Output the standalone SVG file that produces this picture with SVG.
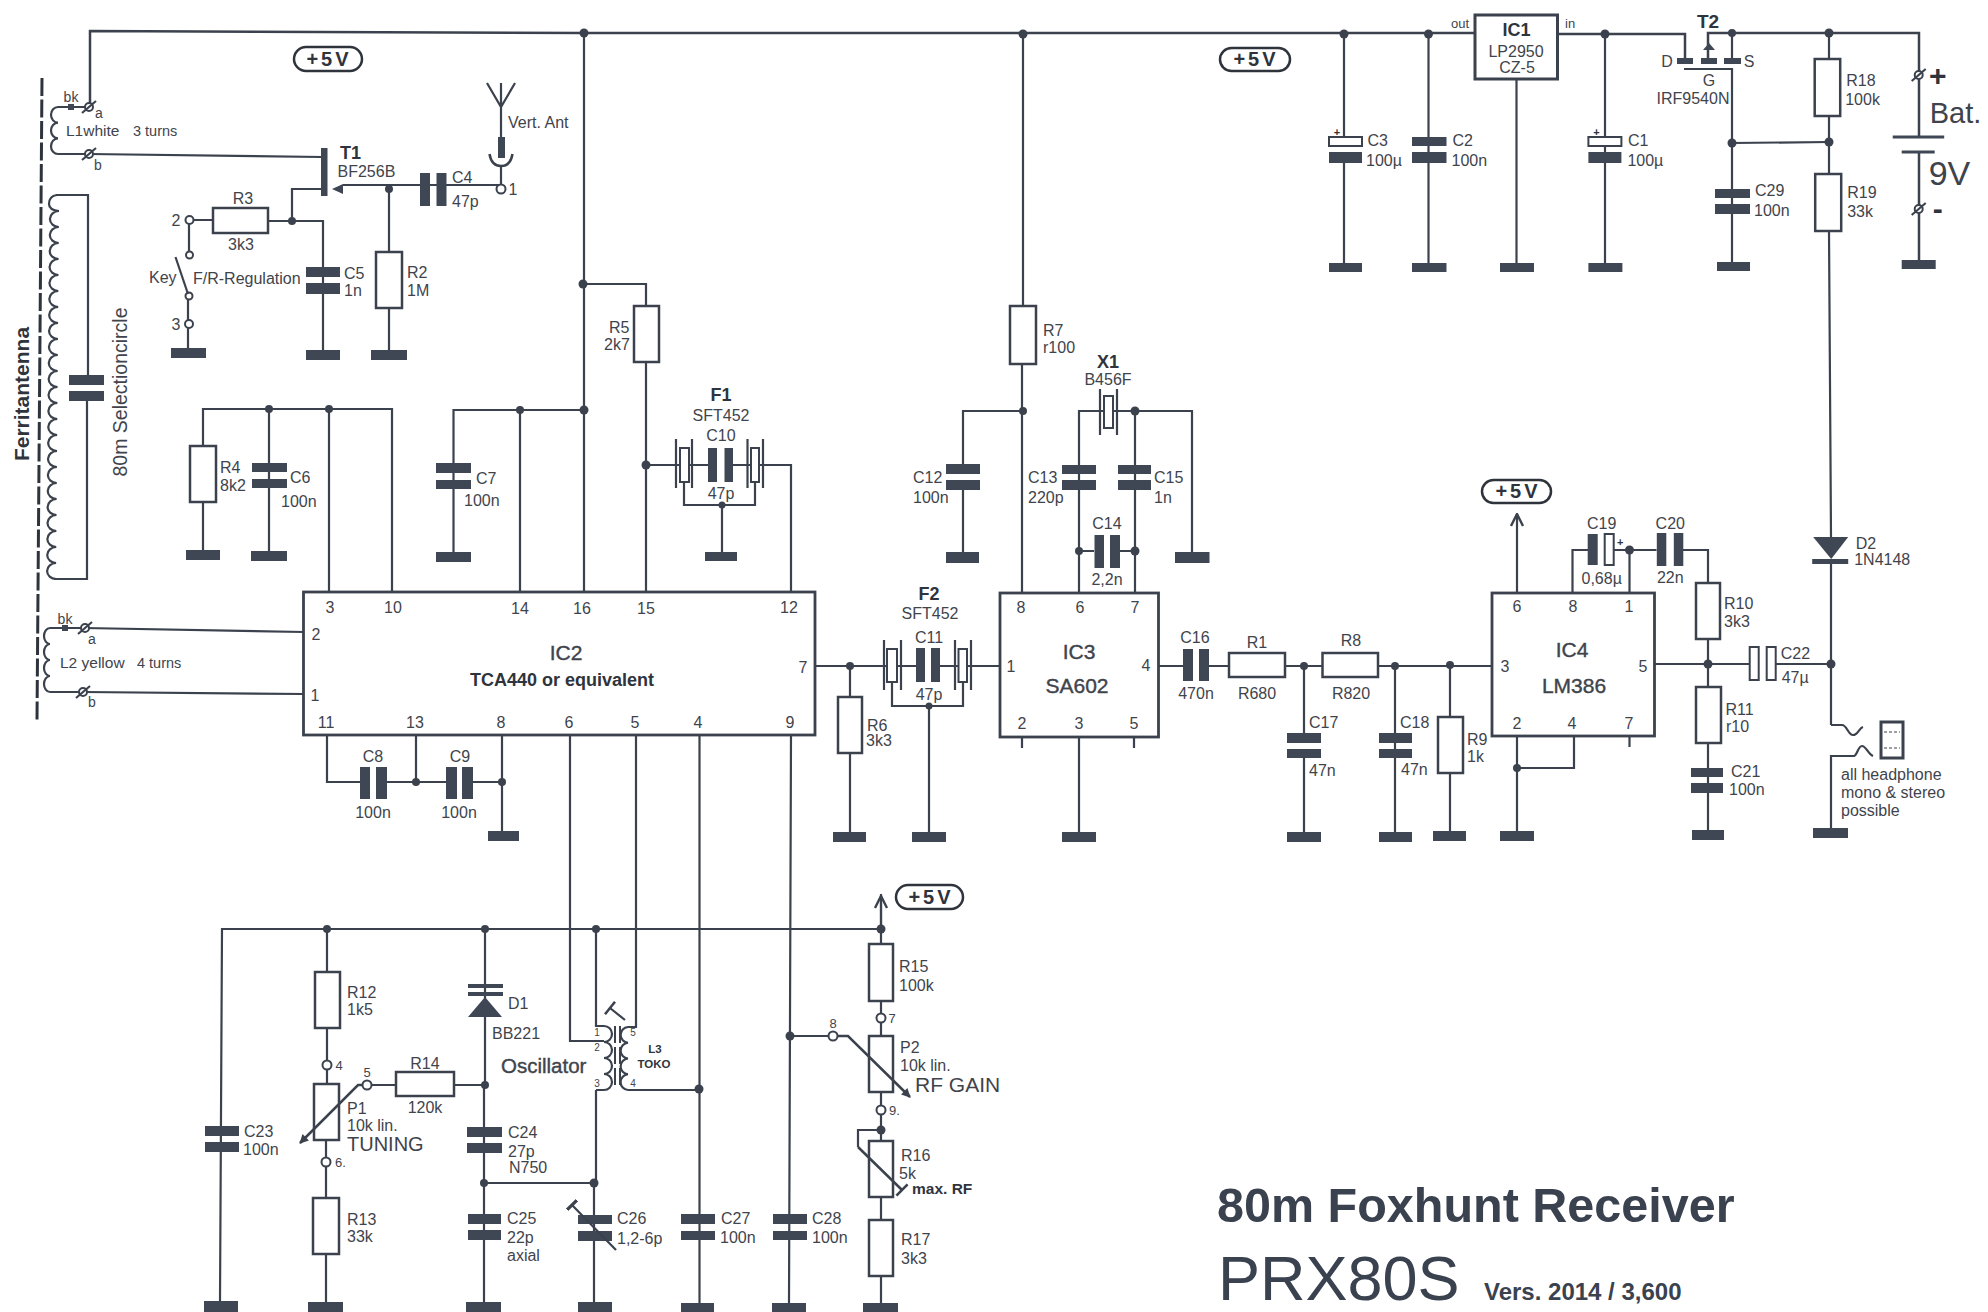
<svg xmlns="http://www.w3.org/2000/svg" width="1988" height="1312" viewBox="0 0 1988 1312">
<style>
text{font-family:"Liberation Sans",Arial,sans-serif;font-size:16px;fill:#3f444c;dominant-baseline:central}
.c{text-anchor:middle}
.b{font-weight:bold;fill:#2f343c}
.h{font-size:18px}
.m{font-size:21px;stroke:#3f444c;stroke-width:.4px}
.s{font-size:10px}
.w{fill:none;stroke:#3b424d;stroke-width:2.2;stroke-linejoin:miter}
.l{fill:none;stroke:#3b424d;stroke-width:2.5}
.p{fill:#3f4754}
.r{fill:#fff;stroke:#3b424d;stroke-width:2.5}
.ic{fill:#fff;stroke:#3b424d;stroke-width:2.8}
.j{fill:#3b424d}
.o{fill:#fff;stroke:#3b424d;stroke-width:2}
.pill{fill:#fff;stroke:#2f343c;stroke-width:2.5}
.v{font-size:20px;font-weight:bold;letter-spacing:3px;fill:#2f343c;text-anchor:middle}
.title{dominant-baseline:auto;fill:#3a4250}
</style>
<defs>
<marker id="tip" viewBox="0 0 10 10" refX="9" refY="5" markerWidth="11" markerHeight="9" markerUnits="userSpaceOnUse" orient="auto"><path d="M0 0L10 5L0 10Z" fill="#3b424d"/></marker>
<marker id="open" viewBox="0 0 10 10" refX="9" refY="5" markerWidth="15" markerHeight="15" markerUnits="userSpaceOnUse" orient="auto"><path d="M1 1L9 5L1 9" fill="none" stroke="#3b424d" stroke-width="1.6"/></marker>
<marker id="tee" viewBox="0 0 10 10" refX="5" refY="5" markerWidth="16" markerHeight="16" markerUnits="userSpaceOnUse" orient="auto"><path d="M5 0V10" fill="none" stroke="#3b424d" stroke-width="1.6"/></marker>
<marker id="teeThick" viewBox="0 0 10 10" refX="5" refY="5" markerWidth="14" markerHeight="14" markerUnits="userSpaceOnUse" orient="auto"><path d="M5 0V10" fill="none" stroke="#3b424d" stroke-width="2.4"/></marker>
</defs>

<g id="connectors">
<!-- +5V supply rail -->
<path class="l" d="M90 107V31L584 33H1476"/>
<path class="w" d="M584 33V592M583 284H646V306M646 362V592"/>
<path class="w" d="M1023 34V306M1022 364V593"/>
<path class="w" d="M1344 34V137M1344 163V263M1428.5 34V263M1516.5 79V263"/>
<path class="l" d="M1558 34H1685V58M1708 58V33H1919V137M1919 152V260"/>
<path class="w" d="M1605 34V263"/>
<path class="w" d="M1684 69H1732V263M1732 143L1829 142M1732 33V58"/>
<path class="w" d="M1829 33V59M1829 116V174M1829 231L1831 537M1831 559V725"/>
<!-- L1 / T1 -->
<path class="w" d="M89 154L322 157"/>
<path class="w" d="M322 189H292V221M501 185H343M189 220H213M268 221H323V350M292 221H268"/>
<path class="w" d="M389 189V252M389 308V350"/>
<path class="w" d="M189 220V255M188 293V348"/>
<path class="w" d="M501 184V166"/>
<!-- ferrite selection circuit -->
<path class="w" d="M56 195H88V375M87 401V579H54"/>
<!-- R4 C6 C7 -->
<path class="w" d="M203 446V409H392V592M329 409V592M203 502V550M269 409V551"/>
<path class="w" d="M453.5 552V410H584M520 410V592"/>
<!-- F1 -->
<path class="w" d="M646 465H680M689 465H708M733 465H751M759 465H791V592M684 482V505H755V482M722 505V552"/>
<!-- L2 -->
<path class="w" d="M84 628L304 632M84 692L304 694"/>
<!-- C8 C9 -->
<path class="w" d="M327 735V782H360M387 782H446M416 735V782M473 782H502M502 735V831"/>
<!-- IC2 bottom pins -->
<path class="w" d="M570 735V1041H604M636 735V1027H628M699.5 735V1303M791 735L789 1303M790 1036H833"/>
<!-- IC2 - F2 - IC3 -->
<path class="w" d="M815 666H887M897 666H916M940 666H958M967 666H1000M850 666V697M850 753V832M892 682V706H963V682M929 706V832"/>
<!-- IC3 top -->
<path class="w" d="M963 464V411H1023M963 490V552M1079 593V411H1104M1113 411H1192V552M1135 411V593"/>
<path class="w" d="M1079 551H1094M1120 551H1135"/>
<path class="w" d="M1079 737V832M1022 737V748M1134 737V748"/>
<!-- audio chain -->
<path class="w" d="M1158 666H1183M1209 666H1229M1285 666H1322M1378 666H1492.5M1304 666V733M1304 758V832M1395 666V832M1450 665V717M1450 773V831"/>
<!-- IC4 -->
<path class="w" d="M1517 593V514" marker-end="url(#open)"/>
<path class="w" d="M1572.5 593V550H1588M1614 550H1656.5M1629.5 550V593M1683 550H1708V583M1708 639V687M1708 743V830M1654.5 664H1750M1776 664H1831M1517 736V831M1517 768H1574V736M1629.5 736V747"/>
<!-- headphone -->
<path class="w" d="M1831 725H1842C1847 725 1848 735 1853 735S1859 728 1863 727M1831 828V756H1854C1857 756 1858 746 1862 746S1868 754 1873 756"/>
<!-- lower rail -->
<path class="w" d="M220 1301L222 929H881M327 929V972M327 1028V1060M327 1070V1084M326 1140V1157M326 1167V1198M326 1254V1302"/>
<path class="w" d="M485 929V1085M484 1085V1302M372 1085H396M454 1085H485M484 1183H594"/>
<path class="w" d="M596 929V1026H604M596 1090H604M596 1090V1183M594 1183V1303M628 1090H699"/>
<path class="w" d="M881 929V894M881 944V929M881 1001V1013M881 1023V1036M881 1092V1105M881 1115V1141M881 1197V1220M881 1276V1303"/>
<path class="w" d="M881 929V896" marker-end="url(#open)"/>
<path class="w" d="M881 1130H858V1147"/>
<!-- junctions -->
<g class="j">
<circle cx="584" cy="33" r="4.5"/><circle cx="1023" cy="34" r="4.5"/><circle cx="1344" cy="34" r="4.5"/><circle cx="1428.5" cy="34" r="4.5"/><circle cx="1605" cy="34" r="4.5"/><circle cx="1732" cy="33" r="4"/><circle cx="1829" cy="33" r="4.5"/><circle cx="1732" cy="143" r="4.5"/><circle cx="1829" cy="142" r="4.5"/>
<circle cx="583" cy="284" r="4.5"/><circle cx="584" cy="410" r="4.5"/><circle cx="520" cy="410" r="4"/><circle cx="269" cy="409" r="4"/><circle cx="329" cy="409" r="4"/><circle cx="646" cy="465" r="4.5"/><circle cx="722" cy="505" r="3.5"/>
<circle cx="389" cy="189" r="4"/><circle cx="292" cy="221" r="4"/>
<circle cx="416" cy="782" r="4"/><circle cx="502" cy="782" r="4"/>
<circle cx="850" cy="666" r="4"/><circle cx="929" cy="706" r="3.5"/><circle cx="1023" cy="411" r="4"/><circle cx="1135" cy="411" r="4.5"/><circle cx="1079" cy="551" r="4"/><circle cx="1135" cy="551" r="4.5"/>
<circle cx="1304" cy="666" r="4"/><circle cx="1395" cy="666" r="4"/><circle cx="1450" cy="665" r="4"/><circle cx="1629.5" cy="550" r="4.5"/><circle cx="1708" cy="664" r="4.5"/><circle cx="1831" cy="664" r="4.5"/><circle cx="1517" cy="768" r="4"/>
<circle cx="327" cy="929" r="4"/><circle cx="485" cy="929" r="4"/><circle cx="596" cy="929" r="4"/><circle cx="881" cy="929" r="4.5"/><circle cx="485" cy="1085" r="4"/><circle cx="484" cy="1183" r="4"/><circle cx="594" cy="1183" r="4.5"/><circle cx="699" cy="1089" r="4.5"/><circle cx="790" cy="1036" r="4.5"/><circle cx="881" cy="1130" r="4.5"/>
</g>
</g>

<g id="ferrite">
<path d="M42 78L37 720" fill="none" stroke="#2f343c" stroke-width="3" stroke-dasharray="18 3.5"/>
<text class="b" transform="translate(21 394) rotate(-90)" text-anchor="middle" style="font-size:21px">Ferritantenna</text>
<path class="w" d="M57 195Q49 196 49 204Q49 210 59 211a9 8 0 0 0 -.13 16a9 8 0 0 0 -.13 16a9 8 0 0 0 -.13 16a9 8 0 0 0 -.13 16a9 8 0 0 0 -.13 16a9 8 0 0 0 -.13 16a9 8 0 0 0 -.13 16a9 8 0 0 0 -.13 16a9 8 0 0 0 -.13 16a9 8 0 0 0 -.13 16a9 8 0 0 0 -.13 16a9 8 0 0 0 -.13 16a9 8 0 0 0 -.13 16a9 8 0 0 0 -.13 16a9 8 0 0 0 -.13 16a9 8 0 0 0 -.13 16a9 8 0 0 0 -.13 16a9 8 0 0 0 -.13 16a9 8 0 0 0 -.13 16a9 8 0 0 0 -.13 16a9 8 0 0 0 -.13 16a9 8 0 0 0 -.13 16a9 8 0 0 0 -.13 16"/>
<rect class="p" x="69" y="375" width="35" height="10"/><rect class="p" x="69" y="391" width="35" height="10"/>
<text transform="translate(120 392) rotate(-90)" text-anchor="middle" style="font-size:19.5px">80m Selectioncircle</text>
</g>

<g id="L1">
<path class="w" d="M89 107H58a7 7.83 0 0 0 0 15.67a7 7.83 0 0 0 0 15.67a7 7.83 0 0 0 0 15.67H89"/>
<rect class="p" x="68" y="104" width="6" height="6"/>
<circle class="o" cx="89" cy="107" r="4"/><path class="w" d="M82 113L96 101"/>
<circle class="o" cx="89" cy="154" r="4"/><path class="w" d="M82 160L96 148"/>
<text class="c" x="71" y="97" style="font-size:14px">bk</text><text class="c" x="99" y="113" style="font-size:14px">a</text><text class="c" x="98" y="165" style="font-size:14px">b</text>
<text x="66" y="130" style="font-size:15.5px">L1white</text><text x="133" y="131" style="font-size:14.5px">3 turns</text>
</g>
<g id="L2">
<path class="w" d="M84 628H50a6 8 0 0 0 0 16a6 8 0 0 0 0 16a6 8 0 0 0 0 16a6 8 0 0 0 0 16H84"/>
<rect class="p" x="62" y="625" width="6" height="6"/>
<circle class="o" cx="85" cy="628" r="4"/><path class="w" d="M78 634L92 622"/>
<circle class="o" cx="83" cy="692" r="4"/><path class="w" d="M76 698L90 686"/>
<text class="c" x="65" y="619" style="font-size:14px">bk</text><text class="c" x="92" y="639" style="font-size:14px">a</text><text class="c" x="92" y="702" style="font-size:14px">b</text>
<text x="60" y="662" style="font-size:15.5px">L2 yellow</text><text x="137" y="663" style="font-size:14.5px">4 turns</text>
</g>

<g id="pill-a"><rect class="pill" x="294" y="47" width="68" height="24" rx="12"/><text class="v" x="329" y="59">+5V</text></g>
<g id="pill-b"><rect class="pill" x="1220" y="48" width="70" height="23" rx="11.5"/><text class="v" x="1256" y="59">+5V</text></g>
<g id="pill-c"><rect class="pill" x="1482" y="480" width="69" height="23" rx="11.5"/><text class="v" x="1518" y="491">+5V</text></g>
<g id="pill-d"><rect class="pill" x="896" y="885" width="67" height="24" rx="12"/><text class="v" x="931" y="897">+5V</text></g>

<g id="T1">
<rect class="p" x="321" y="148" width="6.5" height="48"/>
<path class="p" d="M332 189L343 184V194Z"/>
<text class="b h" x="340" y="153">T1</text><text x="337.5" y="171">BF256B</text>
</g>
<g id="antenna">
<path class="w" d="M487 83L501 107L515 83M501 83V137"/>
<rect class="p" x="498" y="137" width="7" height="21"/>
<path class="l" d="M489.5 154C491 163 496 166 501 166S511 163 512.5 154"/>
<circle class="o" cx="501" cy="189" r="4.5"/>
<text x="508" y="122">Vert. Ant</text><text class="c" x="513" y="189">1</text>
</g>
<g id="C4"><rect class="p" x="420" y="173" width="10" height="33"/><rect class="p" x="436.5" y="173" width="10" height="33"/><text x="452" y="177">C4</text><text x="452" y="201">47p</text></g>
<g id="R3"><rect class="r" x="213" y="208" width="55" height="25"/><text class="c" x="243" y="198">R3</text><text class="c" x="241" y="244">3k3</text></g>
<g id="R2"><rect class="r" x="376" y="252" width="26" height="56"/><text x="407" y="272">R2</text><text x="407" y="290">1M</text><rect class="p" x="371" y="350" width="36" height="10"/></g>
<g id="C5"><rect class="p" x="306" y="267" width="34" height="10"/><rect class="p" x="306" y="283" width="34" height="11"/><text x="344" y="273">C5</text><text x="344" y="290">1n</text><rect class="p" x="306" y="350" width="34" height="10"/></g>
<g id="key">
<circle class="o" cx="189.5" cy="220" r="4"/><circle class="o" cx="189.5" cy="255" r="3.5"/><circle class="o" cx="189" cy="296" r="3.5"/><circle class="o" cx="189" cy="324" r="4"/>
<path class="w" d="M175.5 257L188 294"/>
<text class="c" x="176" y="220">2</text><text class="c" x="176" y="324">3</text>
<text x="149" y="277">Key</text><text x="193" y="278">F/R-Regulation</text>
<rect class="p" x="171" y="348" width="35" height="10"/>
</g>
<g id="R5"><rect class="r" x="634" y="306" width="25" height="56"/><text x="609" y="327">R5</text><text x="604" y="344">2k7</text></g>
<g id="R4"><rect class="r" x="190" y="446" width="26" height="56"/><text x="220" y="467">R4</text><text x="220" y="485">8k2</text><rect class="p" x="186" y="550" width="34" height="10"/></g>
<g id="C6"><rect class="p" x="252" y="463" width="35" height="9"/><rect class="p" x="252" y="479" width="35" height="9"/><text x="290" y="477">C6</text><text x="281" y="501">100n</text><rect class="p" x="251" y="551" width="36" height="10"/></g>
<g id="C7"><rect class="p" x="436" y="463" width="35" height="10"/><rect class="p" x="436" y="480" width="35" height="9"/><text x="476" y="478">C7</text><text x="464" y="500">100n</text><rect class="p" x="436" y="552" width="35" height="10"/></g>
<g id="F1">
<path class="w" d="M676 439V488M692 439V488M747.5 439V488M763 439V488"/>
<rect class="r" style="stroke-width:2" x="680" y="448" width="9" height="34"/><rect class="r" style="stroke-width:2" x="751" y="448" width="8" height="34"/>
<rect class="p" x="708" y="448" width="9" height="34"/><rect class="p" x="724.5" y="448" width="8.5" height="34"/>
<rect class="p" x="705" y="552" width="32" height="9"/>
<text class="b h c" x="721" y="395">F1</text><text class="c" x="721" y="415">SFT452</text><text class="c" x="721" y="435">C10</text><text class="c" x="721" y="493">47p</text>
</g>
<g id="IC2">
<rect class="ic" x="303.5" y="592" width="511.5" height="143"/>
<text class="c m" x="566" y="652">IC2</text><text class="c b" x="562" y="680" style="font-size:18px">TCA440 or equivalent</text>
<text class="c" x="330" y="607">3</text><text class="c" x="393" y="607">10</text><text class="c" x="520" y="608">14</text><text class="c" x="582" y="608">16</text><text class="c" x="646" y="608">15</text><text class="c" x="789" y="607">12</text>
<text class="c" x="316" y="634">2</text><text class="c" x="315" y="695">1</text><text class="c" x="803" y="667">7</text>
<text class="c" x="326" y="722">11</text><text class="c" x="415" y="722">13</text><text class="c" x="501" y="722">8</text><text class="c" x="569" y="722">6</text><text class="c" x="635" y="722">5</text><text class="c" x="698" y="722">4</text><text class="c" x="790" y="722">9</text>
</g>
<g id="C8"><rect class="p" x="360" y="767" width="10" height="32"/><rect class="p" x="376" y="767" width="11" height="32"/><text class="c" x="373" y="756">C8</text><text class="c" x="373" y="812">100n</text></g>
<g id="C9"><rect class="p" x="446" y="767" width="11" height="32"/><rect class="p" x="462" y="767" width="11" height="32"/><text class="c" x="460" y="756">C9</text><text class="c" x="459" y="812">100n</text><rect class="p" x="488" y="831" width="31" height="10"/></g>
<g id="R6"><rect class="r" x="838" y="697" width="24" height="56"/><text x="867" y="725">R6</text><text x="866" y="740">3k3</text><rect class="p" x="833" y="832" width="33" height="10"/></g>
<g id="F2">
<path class="w" d="M884 640V690M901 640V690M955 640V690M971 640V690"/>
<rect class="r" style="stroke-width:2" x="887" y="649" width="10" height="33"/><rect class="r" style="stroke-width:2" x="958.5" y="649" width="8.5" height="33"/>
<rect class="p" x="916" y="648" width="9" height="34"/><rect class="p" x="931" y="648" width="9" height="34"/>
<rect class="p" x="912" y="832" width="34" height="10"/>
<text class="b h c" x="929" y="594">F2</text><text class="c" x="930" y="613">SFT452</text><text class="c" x="929" y="637">C11</text><text class="c" x="929" y="694">47p</text>
</g>
<g id="R7"><rect class="r" x="1010" y="306" width="26" height="58"/><text x="1043" y="330">R7</text><text x="1043" y="347">r100</text></g>
<g id="C12"><rect class="p" x="946" y="464" width="34" height="10"/><rect class="p" x="946" y="480" width="34" height="10"/><text x="913" y="477">C12</text><text x="913" y="497">100n</text><rect class="p" x="946" y="552" width="33" height="11"/></g>
<g id="X1">
<path class="w" d="M1100 389V435M1117 389V435"/><rect class="r" style="stroke-width:2" x="1104" y="396" width="9" height="32"/>
<text class="b h c" x="1108" y="362">X1</text><text class="c" x="1108" y="379">B456F</text>
<rect class="p" x="1175" y="552" width="34.5" height="11"/>
</g>
<g id="C13"><rect class="p" x="1062" y="465" width="34" height="9"/><rect class="p" x="1062" y="480" width="34" height="10"/><text x="1028" y="477">C13</text><text x="1028" y="497">220p</text></g>
<g id="C15"><rect class="p" x="1118" y="465" width="33" height="9"/><rect class="p" x="1118" y="480" width="33" height="10"/><text x="1154" y="477">C15</text><text x="1154" y="497">1n</text></g>
<g id="C14"><rect class="p" x="1094.5" y="535" width="9.5" height="33"/><rect class="p" x="1110" y="535" width="10" height="33"/><text class="c" x="1107" y="523">C14</text><text class="c" x="1107" y="579">2,2n</text></g>
<g id="IC3">
<rect class="ic" x="1000" y="593" width="158.5" height="144"/>
<text class="c m" x="1079" y="651">IC3</text><text class="c m" x="1077" y="685">SA602</text>
<text class="c" x="1021" y="607">8</text><text class="c" x="1080" y="607">6</text><text class="c" x="1135" y="607">7</text><text class="c" x="1011" y="666">1</text><text class="c" x="1146" y="665">4</text><text class="c" x="1022" y="723">2</text><text class="c" x="1079" y="723">3</text><text class="c" x="1134" y="723">5</text>
<rect class="p" x="1062" y="832" width="34" height="10"/>
</g>
<g id="C16"><rect class="p" x="1183" y="649" width="10" height="32"/><rect class="p" x="1199" y="649" width="10" height="32"/><text class="c" x="1195" y="637">C16</text><text class="c" x="1196" y="693">470n</text></g>
<g id="R1"><rect class="r" x="1229" y="653" width="56" height="24"/><text class="c" x="1257" y="642">R1</text><text class="c" x="1257" y="693">R680</text></g>
<g id="R8"><rect class="r" x="1322.5" y="653" width="55.5" height="24"/><text class="c" x="1351" y="640">R8</text><text class="c" x="1351" y="693">R820</text></g>
<g id="C17"><rect class="p" x="1287" y="733" width="34" height="10"/><rect class="p" x="1287" y="749" width="34" height="9"/><text x="1309" y="722">C17</text><text x="1309" y="770">47n</text><rect class="p" x="1287" y="832" width="34" height="10"/></g>
<g id="C18"><rect class="p" x="1379" y="733" width="33" height="10"/><rect class="p" x="1379" y="749" width="33" height="9"/><text x="1400" y="722">C18</text><text x="1401" y="769">47n</text><rect class="p" x="1379" y="832" width="33" height="10"/></g>
<g id="R9"><rect class="r" x="1438" y="717" width="25" height="56"/><text x="1467" y="739">R9</text><text x="1467" y="756">1k</text><rect class="p" x="1433" y="831" width="33" height="10"/></g>
<g id="IC4" transform="translate(-1 0)">
<rect class="ic" x="1493" y="593" width="162.5" height="143"/>
<text class="c m" x="1573" y="649">IC4</text><text class="c m" x="1575" y="685">LM386</text>
<text class="c" x="1518" y="606">6</text><text class="c" x="1574" y="606">8</text><text class="c" x="1630" y="606">1</text><text class="c" x="1506" y="666">3</text><text class="c" x="1644" y="666">5</text><text class="c" x="1518" y="723">2</text><text class="c" x="1573" y="723">4</text><text class="c" x="1630" y="723">7</text>
<rect class="p" x="1501" y="831" width="34" height="10"/>
</g>
<g id="C19" transform="translate(-1.3 0)"><rect class="p" x="1589" y="534" width="10" height="31"/><rect class="r" style="stroke-width:2" x="1606" y="534" width="9" height="31"/><text class="c b" x="1621.5" y="542" style="font-size:11px">+</text><text class="c" x="1603" y="523">C19</text><text class="c" x="1603" y="578">0,68µ</text></g>
<g id="C20" transform="translate(-1.7 0)"><rect class="p" x="1658.5" y="533" width="9.5" height="33"/><rect class="p" x="1675.5" y="533" width="9.5" height="33"/><text class="c" x="1672" y="523">C20</text><text class="c" x="1672" y="577">22n</text></g>
<g id="R10" transform="translate(-2 0)"><rect class="r" x="1698" y="583" width="24" height="56"/><text x="1726" y="603">R10</text><text x="1726" y="621">3k3</text></g>
<g id="R11" transform="translate(-2 0)"><rect class="r" x="1698" y="687" width="25" height="56"/><text x="1727.5" y="709">R11</text><text x="1728" y="726">r10</text></g>
<g id="C21" transform="translate(-2 0)"><rect class="p" x="1693" y="768" width="32" height="9"/><rect class="p" x="1693" y="783" width="32" height="10"/><text x="1733" y="771">C21</text><text x="1731" y="789">100n</text><rect class="p" x="1694" y="830" width="32" height="10"/></g>
<g id="C22" transform="translate(-2.3 0)"><rect class="r" style="stroke-width:2" x="1752" y="647" width="9" height="33"/><rect class="r" style="stroke-width:2" x="1769" y="647" width="9" height="33"/><text x="1783" y="653">C22</text><text x="1784" y="677">47µ</text></g>
<g id="D2" transform="translate(-2.8 0)"><path class="p" d="M1816 537H1851L1834 559Z"/><rect class="p" x="1815" y="559" width="36" height="5"/><text x="1858.5" y="543">D2</text><text x="1857" y="559">1N4148</text></g>
<g id="headphone" transform="translate(-3 0)">
<rect x="1884" y="722" width="22" height="36" fill="#fff" stroke="#3b424d" stroke-width="3"/>
<path d="M1887 732H1903M1887 748H1903" fill="none" stroke="#3b424d" stroke-width="1.2" stroke-dasharray="3 2"/>
<text x="1844" y="774">all headphone</text><text x="1844" y="792">mono &amp; stereo</text><text x="1844" y="810">possible</text>
<rect class="p" x="1816" y="828" width="35" height="10"/>
</g>

<g id="C3"><rect class="r" style="stroke-width:2" x="1329" y="137" width="33" height="9"/><rect class="p" x="1329" y="152" width="33" height="11"/><text class="c b" x="1337" y="132" style="font-size:11px">+</text><text x="1367.5" y="140">C3</text><text x="1366" y="160">100µ</text><rect class="p" x="1329" y="263" width="33" height="9"/></g>
<g id="C2" transform="translate(-.5 0)"><rect class="p" x="1412.5" y="137" width="34.5" height="9"/><rect class="p" x="1412.5" y="152" width="34.5" height="11"/><text x="1453" y="140">C2</text><text x="1452" y="160">100n</text><rect class="p" x="1412.5" y="263" width="34.5" height="9"/></g>
<g id="IC1" transform="translate(-1 0)">
<rect class="ic" style="stroke-width:3" x="1476" y="15" width="82.5" height="64"/>
<text class="c b h" x="1517.5" y="30">IC1</text><text class="c" x="1517" y="51">LP2950</text><text class="c" x="1518" y="67">CZ-5</text>
<text x="1470" y="23" text-anchor="end" style="font-size:13px">out</text><text x="1566" y="23" style="font-size:13px">in</text>
<rect class="p" x="1501" y="263" width="34" height="9"/>
</g>
<g id="C1" transform="translate(-1.6 0)"><rect class="r" style="stroke-width:2" x="1590" y="137" width="33" height="9"/><rect class="p" x="1590" y="152" width="33" height="11"/><text class="c b" x="1598" y="132" style="font-size:11px">+</text><text x="1629.5" y="140">C1</text><text x="1629" y="160">100µ</text><rect class="p" x="1590" y="263" width="34" height="9"/></g>
<g id="T2">
<rect class="p" x="1677" y="58" width="16" height="6"/><rect class="p" x="1701" y="58" width="16" height="6"/><rect class="p" x="1724" y="58" width="17" height="6"/>
<path class="p" d="M1709 43L1715 50H1703Z"/>
<text class="b c" x="1708" y="21" style="font-size:19px">T2</text><text class="c" x="1667" y="61">D</text><text class="c" x="1749" y="61">S</text><text class="c" x="1709" y="80">G</text><text class="c" x="1693" y="98">IRF9540N</text>
</g>
<g id="C29" transform="translate(-3 0)"><rect class="p" x="1718" y="189" width="35" height="9"/><rect class="p" x="1718" y="204" width="35" height="10"/><text x="1758" y="190">C29</text><text x="1757" y="210">100n</text><rect class="p" x="1720" y="262" width="33" height="9"/></g>
<g id="R18" transform="translate(-2.8 0)"><rect class="r" x="1817.5" y="59" width="25.5" height="57"/><text x="1849" y="80">R18</text><text x="1848" y="99">100k</text></g>
<g id="R19" transform="translate(-2.8 0)"><rect class="r" x="1818" y="174" width="26" height="57"/><text x="1850" y="192">R19</text><text x="1850" y="211">33k</text></g>
<g id="battery" transform="translate(-3.3 0)">
<rect class="p" x="1896" y="135.5" width="51.5" height="3"/><rect class="p" x="1905" y="150.5" width="33" height="3"/>
<circle class="o" cx="1922" cy="75" r="4"/><path class="w" d="M1915 81L1929 69"/>
<circle class="o" cx="1922" cy="209" r="4"/><path class="w" d="M1915 215L1929 203"/>
<text class="c b" x="1941" y="75" style="font-size:30px">+</text><text class="c b" x="1941" y="208" style="font-size:30px">-</text>
<text x="1933" y="113" style="font-size:29px">Bat.</text><text x="1932" y="173" style="font-size:34px">9V</text>
<rect class="p" x="1905" y="260" width="34" height="9"/>
</g>

<g id="C23"><rect class="p" x="205" y="1126" width="34" height="10"/><rect class="p" x="205" y="1142" width="34" height="10"/><text x="244" y="1131">C23</text><text x="243" y="1149">100n</text><rect class="p" x="204" y="1301" width="34" height="11"/></g>
<g id="R12"><rect class="r" x="315" y="972" width="25" height="56"/><text x="347" y="992">R12</text><text x="347" y="1009">1k5</text></g>
<g id="P1">
<circle class="o" cx="327" cy="1065" r="4.5"/><text class="c" x="339" y="1065" style="font-size:13px">4</text>
<rect class="r" x="314" y="1084" width="25" height="56"/>
<path class="l" d="M367 1085H358L300 1143" marker-end="url(#tip)"/>
<circle class="o" cx="367" cy="1085" r="4.5"/><text class="c" x="367" y="1072" style="font-size:13px">5</text>
<circle class="o" cx="326" cy="1162" r="4.5"/><text x="335" y="1162" style="font-size:13px">6.</text>
<text x="347" y="1108">P1</text><text x="347" y="1125">10k lin.</text><text x="347" y="1144" style="font-size:20px">TUNING</text>
</g>
<g id="R13"><rect class="r" x="313" y="1198" width="26" height="56"/><text x="347" y="1219">R13</text><text x="347" y="1236">33k</text><rect class="p" x="308" y="1302" width="35" height="10"/></g>
<g id="D1"><rect class="p" x="468" y="984" width="35" height="4"/><rect class="p" x="468" y="992" width="35" height="4"/><path class="p" d="M485 997L502 1017H468Z"/><text x="508" y="1003">D1</text><text x="492" y="1033">BB221</text></g>
<g id="R14"><rect class="r" x="396" y="1072" width="58" height="24"/><text class="c" x="425" y="1063">R14</text><text class="c" x="425" y="1107">120k</text></g>
<g id="C24"><rect class="p" x="467" y="1127" width="35" height="10"/><rect class="p" x="467" y="1143" width="35" height="10"/><text x="508" y="1132">C24</text><text x="508" y="1151">27p</text><text x="509" y="1167">N750</text></g>
<g id="C25"><rect class="p" x="468" y="1214" width="33" height="10"/><rect class="p" x="468" y="1230" width="33" height="10"/><text x="507" y="1218">C25</text><text x="507" y="1237">22p</text><text x="507" y="1255">axial</text><rect class="p" x="466" y="1302" width="35" height="10"/></g>
<g id="C26"><rect class="p" x="578" y="1215" width="34" height="9"/><rect class="p" x="578" y="1231" width="34" height="10"/>
<path class="w" d="M572 1205L616 1250" marker-start="url(#teeThick)"/>
<text x="617" y="1218">C26</text><text x="617" y="1238">1,2-6p</text><rect class="p" x="578" y="1302" width="34" height="10"/></g>
<g id="L3">
<path class="w" d="M604 1026a8 8 0 0 1 0 16a8 8 0 0 1 0 16a8 8 0 0 1 0 16a8 8 0 0 1 0 16"/>
<path class="w" d="M636 1027H628a8 7.9 0 0 0 0 15.75a8 7.9 0 0 0 0 15.75a8 7.9 0 0 0 0 15.75a8 7.9 0 0 0 0 15.75"/>
<path d="M615 1026V1087M620 1026V1087" fill="none" stroke="#3b424d" stroke-width="2" stroke-dasharray="17 4"/>
<path class="w" d="M610 1008L625 1020" marker-start="url(#tee)"/>
<text class="c s" x="597" y="1032">1</text><text class="c s" x="597" y="1047">2</text><text class="c s" x="597" y="1083">3</text><text class="c s" x="633" y="1032">5</text><text class="c s" x="633" y="1083">4</text>
<text class="c b" x="655" y="1049" style="font-size:11.5px">L3</text><text class="c b" x="654" y="1064" style="font-size:11.5px">TOKO</text>
<text x="501" y="1065" style="font-size:20.5px;stroke:#3f444c;stroke-width:.4px">Oscillator</text>
</g>
<g id="C27"><rect class="p" x="681" y="1214" width="34" height="10"/><rect class="p" x="681" y="1231" width="34" height="9"/><text x="721" y="1218">C27</text><text x="720" y="1237">100n</text><rect class="p" x="681" y="1303" width="33" height="9"/></g>
<g id="C28"><rect class="p" x="773" y="1214" width="34" height="10"/><rect class="p" x="773" y="1231" width="34" height="9"/><text x="812" y="1218">C28</text><text x="812" y="1237">100n</text><rect class="p" x="772" y="1303" width="34" height="9"/></g>
<g id="R15"><rect class="r" x="869" y="944" width="24" height="57"/><text x="899" y="966">R15</text><text x="899" y="985">100k</text></g>
<g id="P2">
<circle class="o" cx="881" cy="1018" r="4.5"/><text class="c" x="892" y="1018" style="font-size:13px">7</text>
<rect class="r" x="869" y="1036" width="24" height="56"/>
<path class="l" d="M837 1036H848L910 1097" marker-end="url(#tip)"/>
<circle class="o" cx="833" cy="1036" r="4.5"/><text class="c" x="833" y="1023" style="font-size:13px">8</text>
<circle class="o" cx="881" cy="1110" r="4.5"/><text x="889" y="1110" style="font-size:13px">9.</text>
<text x="900" y="1047">P2</text><text x="900" y="1065">10k lin.</text><text x="915" y="1084" style="font-size:21px">RF GAIN</text>
</g>
<g id="R16">
<rect class="r" x="869" y="1141" width="24" height="56"/>
<path class="l" d="M858 1147L902 1190" marker-end="url(#tee)"/>
<text x="901" y="1155">R16</text><text x="899" y="1173">5k</text><text class="b" x="912" y="1188" style="font-size:15.5px">max. RF</text>
</g>
<g id="R17"><rect class="r" x="869" y="1220" width="24" height="56"/><text x="901" y="1239">R17</text><text x="901" y="1258">3k3</text><rect class="p" x="863" y="1303" width="35" height="9"/></g>

<g id="title">
<text class="title" x="1217" y="1222" style="font-size:48.5px;font-weight:bold">80m Foxhunt Receiver</text>
<text class="title" x="1218" y="1300" style="font-size:63px">PRX80S</text>
<text class="title" x="1484" y="1300" style="font-size:24px;font-weight:bold">Vers. 2014 / 3,600</text>
</g>
</svg>
